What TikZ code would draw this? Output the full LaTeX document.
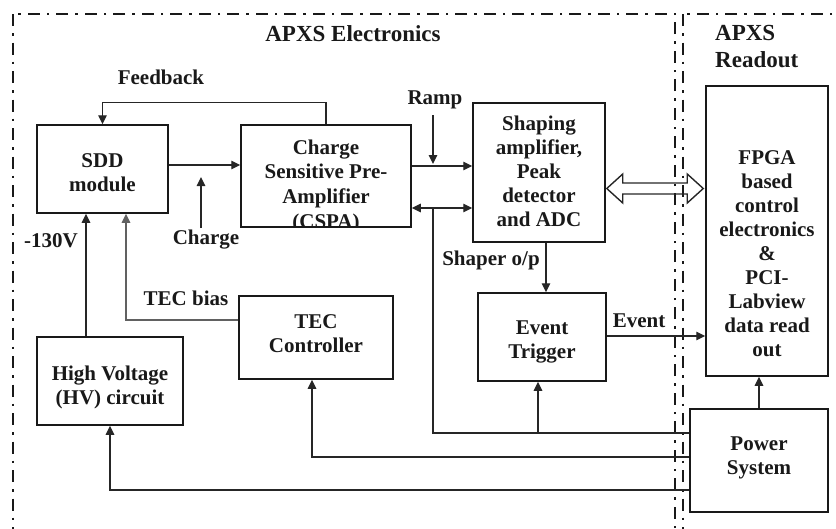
\documentclass[tikz,border=0pt]{standalone}
\usepackage{fontspec}
\setmainfont{Liberation Serif}
\usetikzlibrary{arrows.meta,calc}
\begin{document}
\begin{tikzpicture}[x=1pt,y=-1pt,
  box/.style={draw=black!90, line width=1.5pt, inner sep=0pt},
  txt/.style={align=center, inner sep=0pt, text=black!90, font=\fontsize{21}{24}\selectfont\bfseries},
  lbl/.style={inner sep=0pt, text=black!90, font=\fontsize{21}{24}\selectfont\bfseries},
  hdr/.style={inner sep=0pt, align=left, text=black!90, font=\fontsize{23}{27}\selectfont\bfseries},
  conn/.style={line width=1.4pt, draw=black!85},
  arr/.style={conn, -{Triangle[length=9pt,width=8.5pt]}},
  darr/.style={conn, {Triangle[length=9pt,width=8.5pt]}-{Triangle[length=9pt,width=8.5pt]}},
  grayarr/.style={line width=1.4pt, draw=black!62, -{Triangle[length=9pt,width=8.5pt]}},
  hollow/.style={line width=1.4pt, draw=black!85, line join=miter},
  border/.style={line width=2.3pt, draw=black!90, dash pattern=on 12pt off 7pt on 2.5pt off 7pt}
]
\clip (0,0) rectangle (836,528);

% outer regions
\draw[border] (13,14) rectangle (675,548);
\draw[border] (683,14) rectangle (860,548);
\node[hdr] (hel) at (353,34) {APXS Electronics};
\node[hdr, anchor=west] (hro) at (715,47) {APXS\\Readout};

% boxes
\node[box, minimum width=131pt, minimum height=88pt] (sdd) at (102.5,169) {};
\node[txt] (sddT) at (102.5,173) {SDD\\module};

\node[box, minimum width=170pt, minimum height=102pt] (cspa) at (326,176) {};
\begin{scope}
  \clip (cspa.north west) rectangle (cspa.south east);
  \node[txt, font=\fontsize{21}{24.7}\selectfont\bfseries] (cspaT) at (326,186) {Charge\\Sensitive Pre-\\Amplifier\\(CSPA)};
\end{scope}

\node[box, minimum width=132pt, minimum height=139pt] (shp) at (539,172.5) {};
\node[txt] (shpT) at (539,171) {Shaping\\amplifier,\\Peak\\detector\\and ADC};

\node[box, minimum width=122pt, minimum height=290pt] (fpga) at (767,231) {};
\node[txt] (fpgaT) at (767,254) {FPGA\\based\\control\\electronics\\\&\\PCI-\\Labview\\data read\\out};

\node[box, minimum width=128pt, minimum height=88pt] (evt) at (542,337) {};
\node[txt] (evtT) at (542,342) {Event\\Trigger};

\node[box, minimum width=154pt, minimum height=83pt] (tec) at (316,337.5) {};
\node[txt] (tecT) at (316,334) {TEC\\Controller};

\node[box, minimum width=146pt, minimum height=88pt] (hv) at (110,381) {};
\node[txt] (hvT) at (110,387) {High Voltage\\(HV) circuit};

\node[box, minimum width=138pt, minimum height=103pt] (pwr) at (759,460.5) {};
\node[txt] (pwrT) at (759,458) {Power\\System};

% labels
\node[lbl] (lfb) at (161,77) {Feedback};
\node[lbl] (lramp) at (435,100) {Ramp};
\node[lbl] (lchg) at (206,240) {Charge};
\node[lbl] (lshp) at (491,260) {Shaper o/p};
\node[lbl] (levt) at (639,321) {Event};
\node[lbl] (ltec) at (186,298) {TEC bias};
\node[lbl] (lhv) at (51,241) {-130V};

% connectors
\draw[arr] (cspa.north) -- ++(0,-22) -| (sdd.north);
\coordinate (a1) at ($(sdd.east)+(0,-4)$);
\draw[arr] (a1) -- (a1 -| cspa.west);
\coordinate (chgS) at (201,228);
\draw[arr] (chgS) -- ++(0,-51);

\coordinate (a2) at ($(cspa.east)+(0,-10)$);
\draw[arr] (a2) -- (a2 -| shp.west);
\coordinate (rampS) at (433,115);
\draw[arr] (rampS) -- ++(0,49);

\coordinate (a3) at ($(cspa.east)+(0,32)$);
\draw[darr] (a3) -- (a3 -| shp.west);
\coordinate (j1) at (433,208);
\coordinate (p1) at ($(pwr.west)+(0,-27.5)$);
\draw[conn] (j1) |- (p1);
\coordinate (j2) at (538,433);
\draw[arr] (j2) -- (j2 |- evt.south);

\coordinate (p2) at ($(pwr.west)+(0,-3.5)$);
\coordinate (tecIn) at ($(tec.south)+(-4,0)$);
\draw[arr] (p2) -| (tecIn);
\coordinate (p3) at ($(pwr.west)+(0,29.5)$);
\draw[arr] (p3) -| (hv.south);

\draw[arr] (pwr.north) -- (pwr.north |- fpga.south);

\coordinate (so) at ($(shp.south)+(7,0)$);
\draw[arr] (so) -- (so |- evt.north);

\coordinate (ev) at ($(evt.east)+(0,-1)$);
\draw[arr] (ev) -- (ev -| fpga.west);

\coordinate (tb) at ($(tec.west)+(0,-17.5)$);
\coordinate (tbIn) at ($(sdd.south)+(23.5,0)$);
\draw[grayarr] (tb) -| (tbIn);

\coordinate (hvo) at ($(hv.north)+(-24,0)$);
\draw[arr] (hvo) -- (hvo |- sdd.south);

% hollow double arrow
\coordinate (dl) at ($(shp.east)+(1,16)$);
\coordinate (dr) at ($(fpga.west)+(-2,-42.5)$);
\draw[hollow] (dl) -- ++(16,-14.5) -- ++(0,9) -- ($(dr)+(-16,-5.5)$) -- ++(0,-9) -- (dr)
  -- ++(-16,14.5) -- ++(0,-9) -- ($(dl)+(16,5.5)$) -- ++(0,9) -- cycle;
\end{tikzpicture}
\end{document}
